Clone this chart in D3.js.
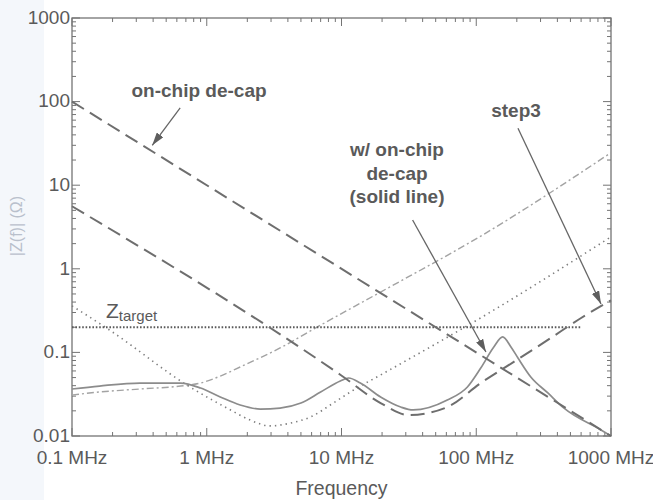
<!DOCTYPE html>
<html>
<head>
<meta charset="utf-8">
<script src="https://cdn.jsdelivr.net/npm/d3@7"></script>
<style>
  body { margin: 0; background: #fff; }
  svg { display: block; font-family: "Liberation Sans", Arial, sans-serif; }
</style>
</head>
<body>
<div id="chart"></div>
<script>
// Impedance vs frequency (log-log)
const freqTicks = [0.1, 1, 10, 100, 1000];
const freqLabels = ["0.1 MHz", "1 MHz", "10 MHz", "100 MHz", "1000 MHz"];
const zTicks = [0.01, 0.1, 1, 10, 100, 1000];
const zLabels = ["0.01", "0.1", "1", "10", "100", "1000"];

// [frequency MHz, |Z| ohm]
const onChipDecap = [[0.1, 100], [1000, 0.01]];
const zTarget = [[0.1, 0.2], [600, 0.2]];
const step3 = [
  [0.1, 5.6], [9.8, 0.054], [19.5, 0.0248], [31.5, 0.0178], [61, 0.0222],
  [108, 0.043], [190, 0.077], [340, 0.141], [600, 0.258], [1000, 0.42]
];
const withDecap = [
  [0.1, 0.0365], [0.16, 0.0396], [0.32, 0.043], [0.64, 0.043], [0.9, 0.0375],
  [1.26, 0.0293], [1.77, 0.0235], [2.5, 0.021], [3.5, 0.0216], [5, 0.0248],
  [7, 0.0336], [9.8, 0.0455], [11.3, 0.0494], [13.8, 0.043], [19.5, 0.0293],
  [27.5, 0.0222], [34, 0.0205], [61, 0.027], [86, 0.0386], [108, 0.065],
  [135, 0.116], [157, 0.153], [181, 0.116], [204, 0.0857], [254, 0.0508],
  [340, 0.0327], [448, 0.0215], [843, 0.0118], [1000, 0.01]
];
const dottedCurve = [
  [0.1, 0.36], [0.19, 0.185], [0.75, 0.0386], [1.5, 0.0205], [2.1, 0.0155],
  [2.96, 0.0132], [4.2, 0.0143], [5.9, 0.0169], [8.7, 0.0248], [12.3, 0.0355],
  [19.5, 0.0537], [128, 0.305], [1000, 2.41]
];
const dashDotCurve = [
  [0.1, 0.0309], [0.16, 0.0336], [0.32, 0.0365], [0.64, 0.0396], [0.9, 0.043],
  [1.26, 0.0521], [1.77, 0.0669], [3.5, 0.113], [7, 0.212], [19.5, 0.527],
  [108, 2.46], [1000, 24.5]
];

// annotations: text lines and arrows [from, to] in data coords
const annotations = [
  { lines: ["on-chip de-cap"], x: 199, y: 97, from: [0.635, 84], to: [0.394, 30] },
  { lines: ["w/ on-chip", "de-cap", "(solid line)"], x: 397, y: 156, from: [33.7, 3.84], to: [118, 0.101] },
  { lines: ["step3"], x: 516, y: 117, from: [204, 48], to: [843, 0.38] }
];

const width = 653, height = 500;
const margin = { left: 72, right: 42, top: 18, bottom: 64 };

const svg = d3.select("#chart").append("svg")
  .attr("width", width)
  .attr("height", height);

// faint tinted strip of the scan on the left
svg.append("rect").attr("x", 0).attr("y", 0).attr("width", 44).attr("height", height)
  .attr("fill", "#f4f7fb");

const x = d3.scaleLog().domain([0.1, 1000]).range([margin.left, width - margin.right]);
const y = d3.scaleLog().domain([0.01, 1000]).range([height - margin.bottom, margin.top]);

const axisColor = "#747474";
const textColor = "#5a5a5a";

svg.append("defs").append("marker")
  .attr("id", "arrow")
  .attr("markerUnits", "userSpaceOnUse")
  .attr("markerWidth", 13).attr("markerHeight", 8)
  .attr("refX", 13).attr("refY", 4)
  .attr("orient", "auto")
  .append("path")
  .attr("d", "M0,0 L13,4 L0,8 Z")
  .attr("fill", "#5e5e5e");

// ticks all round, pointing inward
function minorValues(scale) {
  const [a, b] = scale.domain();
  const out = [];
  for (let dec = a; dec < b * 0.99; dec *= 10) {
    for (let k = 2; k <= 9; k++) out.push(dec * k);
  }
  return out;
}

const frame = svg.append("g");
frame.append("rect")
  .attr("x", x.range()[0]).attr("y", y.range()[1])
  .attr("width", x.range()[1] - x.range()[0])
  .attr("height", y.range()[0] - y.range()[1])
  .attr("fill", "none").attr("stroke", axisColor).attr("stroke-width", 1.3);

const xMinor = minorValues(x), yMinor = minorValues(y);
const x0 = x.range()[0], x1 = x.range()[1], y0 = y.range()[0], y1 = y.range()[1];

function tickLines(vals, len, horizontal) {
  vals.forEach(v => {
    if (horizontal) {
      const px = x(v);
      frame.append("line").attr("x1", px).attr("x2", px).attr("y1", y0).attr("y2", y0 - len);
      frame.append("line").attr("x1", px).attr("x2", px).attr("y1", y1).attr("y2", y1 + len);
    } else {
      const py = y(v);
      frame.append("line").attr("y1", py).attr("y2", py).attr("x1", x0).attr("x2", x0 + len);
      frame.append("line").attr("y1", py).attr("y2", py).attr("x1", x1).attr("x2", x1 - len);
    }
  });
}
tickLines(freqTicks, 8, true);
tickLines(xMinor, 4, true);
tickLines(zTicks, 8, false);
tickLines(yMinor, 4, false);
frame.selectAll("line").attr("stroke", axisColor).attr("stroke-width", 1);

// tick labels
svg.append("g").selectAll("text")
  .data(zTicks)
  .enter().append("text")
  .attr("x", x0 - 2)
  .attr("y", d => y(d))
  .attr("dy", "0.3em")
  .attr("text-anchor", "end")
  .attr("font-size", 19)
  .attr("fill", textColor)
  .text((d, i) => zLabels[i]);

svg.append("g").selectAll("text")
  .data(freqTicks)
  .enter().append("text")
  .attr("x", d => x(d))
  .attr("y", 464)
  .attr("text-anchor", "middle")
  .attr("font-size", 19)
  .attr("fill", textColor)
  .text((d, i) => freqLabels[i]);

svg.append("text")
  .attr("x", (x0 + x1) / 2)
  .attr("y", 495)
  .attr("text-anchor", "middle")
  .attr("font-size", 19.5)
  .attr("fill", textColor)
  .text("Frequency");

// faded y title
svg.append("text")
  .attr("transform", "translate(22," + 226 + ") rotate(-90)")
  .attr("text-anchor", "middle")
  .attr("font-size", 16)
  .attr("fill", "#b9c0cc")
  .text("|Z(f)| (\u03a9)");

// curves
const line = d3.line()
  .x(d => x(d[0]))
  .y(d => y(d[1]))
  .curve(d3.curveMonotoneX);

const series = [
  { data: dashDotCurve, stroke: "#a3a3a3", width: 1.4, dash: "7,3,2,3" },
  { data: dottedCurve, stroke: "#7d7d7d", width: 1.6, dash: "1.4,4" },
  { data: zTarget, stroke: "#5a5a5a", width: 2.2, dash: "1.6,1.8" },
  { data: withDecap, stroke: "#8c8c8c", width: 1.7, dash: null },
  { data: onChipDecap, stroke: "#6e6e6e", width: 2, dash: "14,7" },
  { data: step3, stroke: "#6e6e6e", width: 2, dash: "14,7" }
];

series.forEach(s => {
  svg.append("path")
    .datum(s.data)
    .attr("d", line)
    .attr("fill", "none")
    .attr("stroke", s.stroke)
    .attr("stroke-width", s.width)
    .attr("stroke-dasharray", s.dash);
});

// Z_target label
const zt = svg.append("text")
  .attr("x", 106).attr("y", 318)
  .attr("fill", textColor);
zt.append("tspan").attr("font-size", 21).text("Z");
zt.append("tspan").attr("font-size", 15).attr("dy", 3).text("target");

// annotations
annotations.forEach(a => {
  const t = svg.append("text")
    .attr("text-anchor", "middle")
    .attr("font-size", 19)
    .attr("font-weight", "bold")
    .attr("fill", textColor);
  a.lines.forEach((l, i) => {
    t.append("tspan").attr("x", a.x).attr("y", a.y + i * 23.5).text(l);
  });
  svg.append("line")
    .attr("x1", x(a.from[0])).attr("y1", y(a.from[1]))
    .attr("x2", x(a.to[0])).attr("y2", y(a.to[1]))
    .attr("stroke", "#666")
    .attr("stroke-width", 1.3)
    .attr("marker-end", "url(#arrow)");
});
</script>
</body>
</html>
